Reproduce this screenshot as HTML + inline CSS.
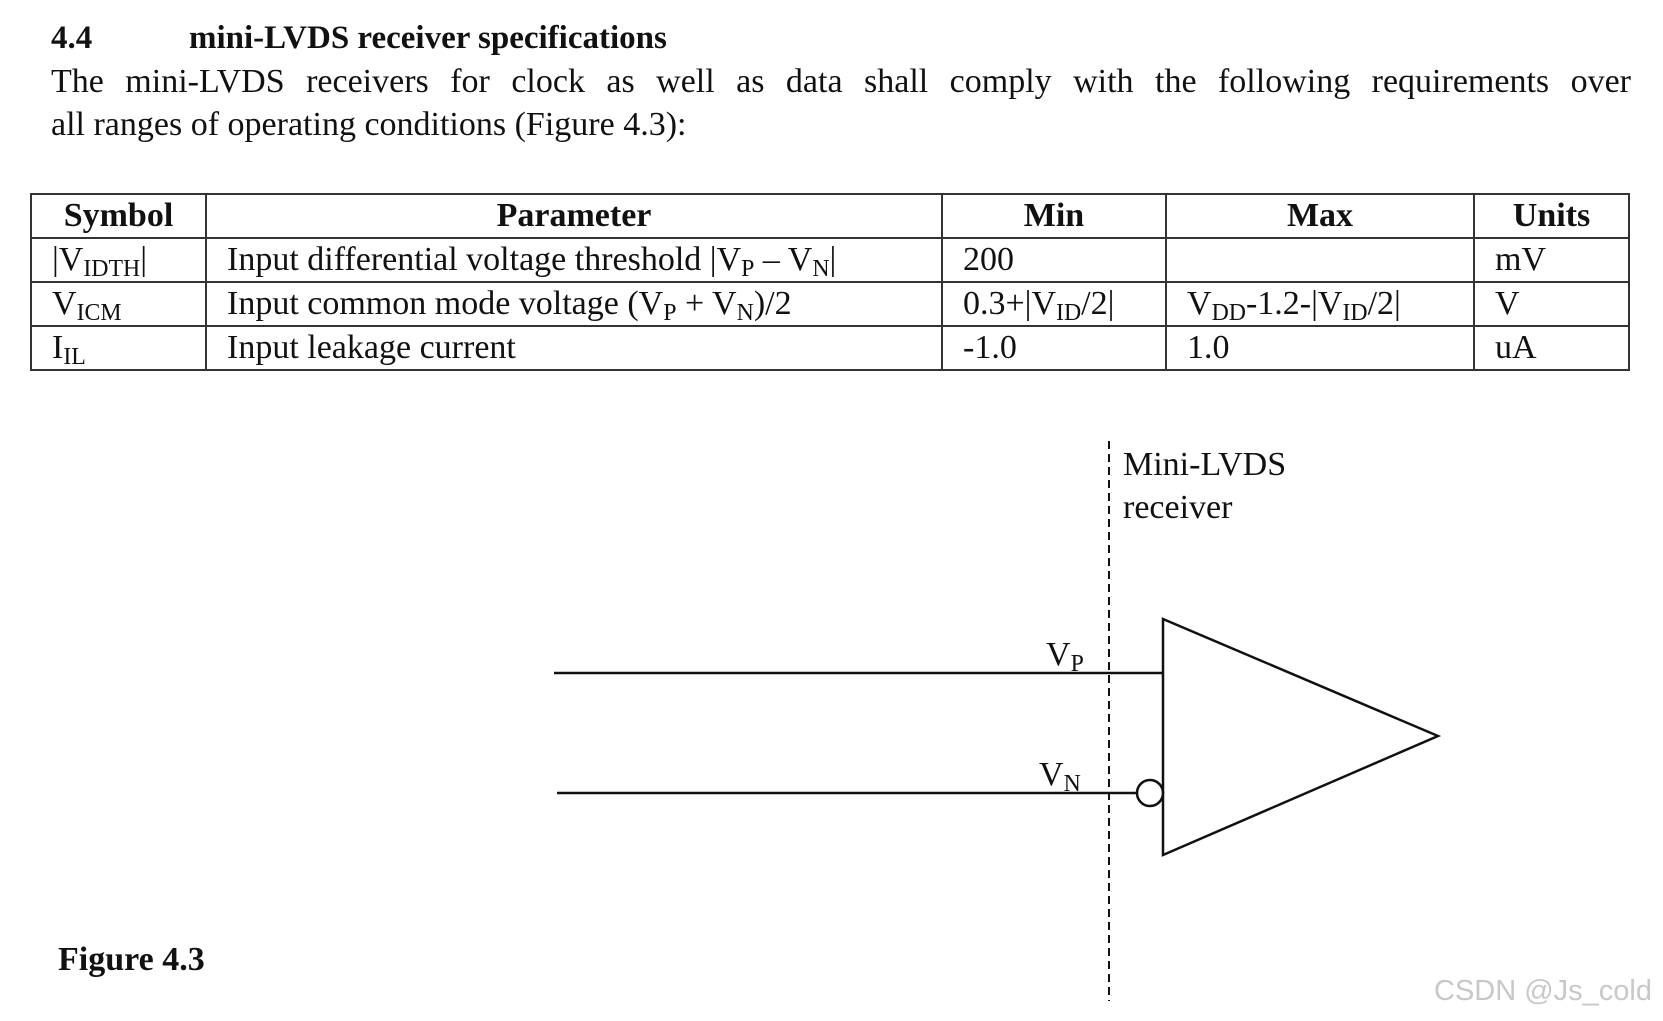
<!DOCTYPE html>
<html><head><meta charset="utf-8"><style>
html,body{margin:0;padding:0;background:#fff;}
body{width:1663px;height:1021px;position:relative;overflow:hidden;font-family:"Liberation Serif",serif;color:#111;}
.a{position:absolute;white-space:nowrap;line-height:1;}
sub{font-size:0.7em;vertical-align:-0.25em;line-height:0;}
table{position:absolute;left:30px;top:193px;border-collapse:collapse;font-size:34px;}
td{border:2px solid #333;padding:0 0 0 20px;height:42px;line-height:1;vertical-align:middle;}
th{border:2px solid #333;height:42px;font-weight:bold;padding:0;}
</style></head><body>
<div class="a" style="left:51px;top:22px;font-size:33px;font-weight:bold;">4.4</div>
<div class="a" style="left:189px;top:22px;font-size:33px;font-weight:bold;">mini-LVDS receiver specifications</div>
<div class="a" style="left:51px;top:65px;font-size:34px;width:1580px;text-align:justify;text-align-last:justify;white-space:normal;">The mini-LVDS receivers for clock as well as data shall comply with the following requirements over</div>
<div class="a" style="left:51px;top:108px;font-size:34px;">all ranges of operating conditions (Figure 4.3):</div>
<table>
<tr><th style="width:173px">Symbol</th><th style="width:734px">Parameter</th><th style="width:222px">Min</th><th style="width:306px">Max</th><th style="width:153px">Units</th></tr>
<tr><td style="padding-left:20px">|V<sub>IDTH</sub>|</td><td>Input differential voltage threshold |V<sub>P</sub> – V<sub>N</sub>|</td><td>200</td><td></td><td>mV</td></tr>
<tr><td style="padding-left:20px">V<sub>ICM</sub></td><td>Input common mode voltage (V<sub>P</sub> + V<sub>N</sub>)/2</td><td>0.3+|V<sub>ID</sub>/2|</td><td>V<sub>DD</sub>-1.2-|V<sub>ID</sub>/2|</td><td>V</td></tr>
<tr><td style="padding-left:20px">I<sub>IL</sub></td><td>Input leakage current</td><td>-1.0</td><td>1.0</td><td>uA</td></tr>
</table>
<svg class="a" style="left:0;top:0" width="1663" height="1021">
<line x1="1109" y1="441" x2="1109" y2="1001" stroke="#111" stroke-width="2" stroke-dasharray="8,5"/>
<polygon points="1163,619 1438,736 1163,855" fill="none" stroke="#111" stroke-width="2.5"/>
<line x1="554" y1="673" x2="1163" y2="673" stroke="#111" stroke-width="2.5"/>
<line x1="557" y1="793" x2="1137" y2="793" stroke="#111" stroke-width="2.5"/>
<circle cx="1150" cy="793" r="13" fill="#fff" stroke="#111" stroke-width="2.5"/>
</svg>
<div class="a" style="left:1123px;top:448px;font-size:34px;">Mini-LVDS</div>
<div class="a" style="left:1123px;top:491px;font-size:34px;">receiver</div>
<div class="a" style="left:1046px;top:638px;font-size:34px;">V<sub>P</sub></div>
<div class="a" style="left:1039px;top:758px;font-size:34px;">V<sub>N</sub></div>
<div class="a" style="left:58px;top:943px;font-size:34px;font-weight:bold;">Figure 4.3</div>
<div class="a" style="left:1434px;top:977px;font-size:29px;font-family:'Liberation Sans',sans-serif;color:#c8c8c8;">CSDN @Js_cold</div>
</body></html>
